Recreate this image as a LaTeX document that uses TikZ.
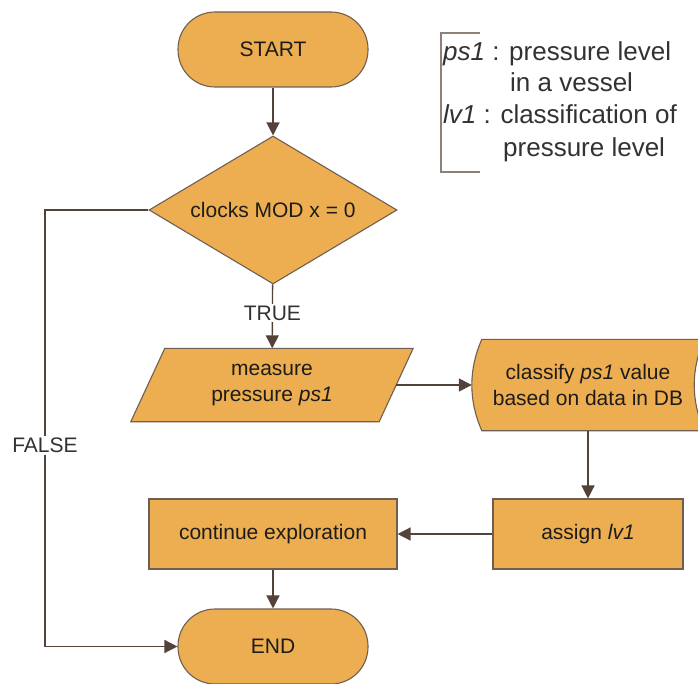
\documentclass[tikz,border=0pt]{standalone}
\usepackage{fontspec}
\setmainfont{Liberation Sans}
\usetikzlibrary{shapes.geometric,arrows.meta,backgrounds}
\definecolor{boxfill}{RGB}{236,174,80}
\definecolor{boxline}{RGB}{110,95,82}
\definecolor{arr}{RGB}{82,66,58}
\definecolor{txt}{RGB}{30,28,26}
\definecolor{lbltxt}{RGB}{50,50,50}
\definecolor{legline}{RGB}{140,128,120}
\begin{document}
\begin{tikzpicture}[x=1pt,y=-1pt,
  every node/.style={font=\fontsize{21}{26}\selectfont, text=txt},
  term/.style={draw=boxline, fill=boxfill, line width=1.1pt, rounded corners=37pt,
    minimum width=190pt, minimum height=75pt, inner sep=0pt},
  decision/.style={shape=diamond, aspect=1.68, draw=boxline, fill=boxfill, line width=1.1pt,
    minimum width=248pt, minimum height=148pt, inner sep=0pt},
  procbox/.style={draw=boxline, fill=boxfill, line width=1.1pt, inner sep=0pt, minimum height=70pt},
  ghost/.style={inner sep=0pt, align=center},
  shapeline/.style={draw=boxline, fill=boxfill, line width=1.1pt},
  arrow/.style={draw=arr, line width=1.4pt, -{Triangle[width=13pt,length=13pt]}},
  lbl/.style={fill=white, inner sep=2pt, text=lbltxt},
  leg/.style={font=\fontsize{26}{33}\selectfont, text=lbltxt, inner sep=0pt, anchor=base west},
]
\useasboundingbox (0,0) rectangle (698,684);

% nodes
\node[term] (start) at (273,49.5) {START};
\node[decision] (dec) at (273,210) {clocks MOD x = 0};
\node[ghost, minimum width=248pt, minimum height=73pt] (meas) at (272,385) {measure\\pressure \textit{ps1}};
\node[ghost, minimum width=232pt, minimum height=91pt] (cls) at (588,385) {classify \textit{ps1} value\\based on data in DB};
\node[procbox, minimum width=190pt] (asg) at (588,534) {assign \textit{lv1}};
\node[procbox, minimum width=248pt] (cont) at (273,534) {continue exploration};
\node[term] (stop) at (273,646.5) {END};

% shapes behind the ghost nodes
\begin{scope}[on background layer]
\path[shapeline] ([xshift=-17pt]meas.south west) -- ([xshift=17pt]meas.north west)
  -- ([xshift=17pt]meas.north east) -- ([xshift=-17pt]meas.south east) -- cycle;
\path[shapeline] ([xshift=10pt]cls.north west) -- (cls.north east)
  .. controls ([xshift=-13.3pt,yshift=-30pt]cls.north east) and ([xshift=-13.3pt,yshift=30pt]cls.south east) .. (cls.south east)
  -- ([xshift=10pt]cls.south west)
  .. controls ([xshift=-3.3pt,yshift=30pt]cls.south west) and ([xshift=-3.3pt,yshift=-30pt]cls.north west) .. ([xshift=10pt]cls.north west)
  -- cycle;
\end{scope}

% connectors
\draw[arrow] (start) -- (dec);
\draw[arrow] (dec) -- node[lbl, pos=0.45] {TRUE} (meas);
\draw[arrow] (meas.east) -- (cls.west);
\draw[arrow] (cls) -- (asg);
\draw[arrow] (asg) -- (cont);
\draw[arrow] (cont) -- (stop);
\coordinate (fcorner) at (45,210);
\draw[arrow] (dec.west) -- (fcorner) |- node[lbl, pos=0.27] {FALSE} (stop.west);

% legend
\draw[legline, line width=1.2pt] (480,33) -- (441,33) -- (441,172) -- (480,172);
\node[leg] (l1) at (443,61) {\textit{ps1} : pressure level};
\node[leg] (l2) at (510,92) {in a vessel};
\node[leg] (l3) at (443,124) {\textit{lv1} : classification of};
\node[leg] (l4) at (503,157) {pressure level};
\end{tikzpicture}
\end{document}
